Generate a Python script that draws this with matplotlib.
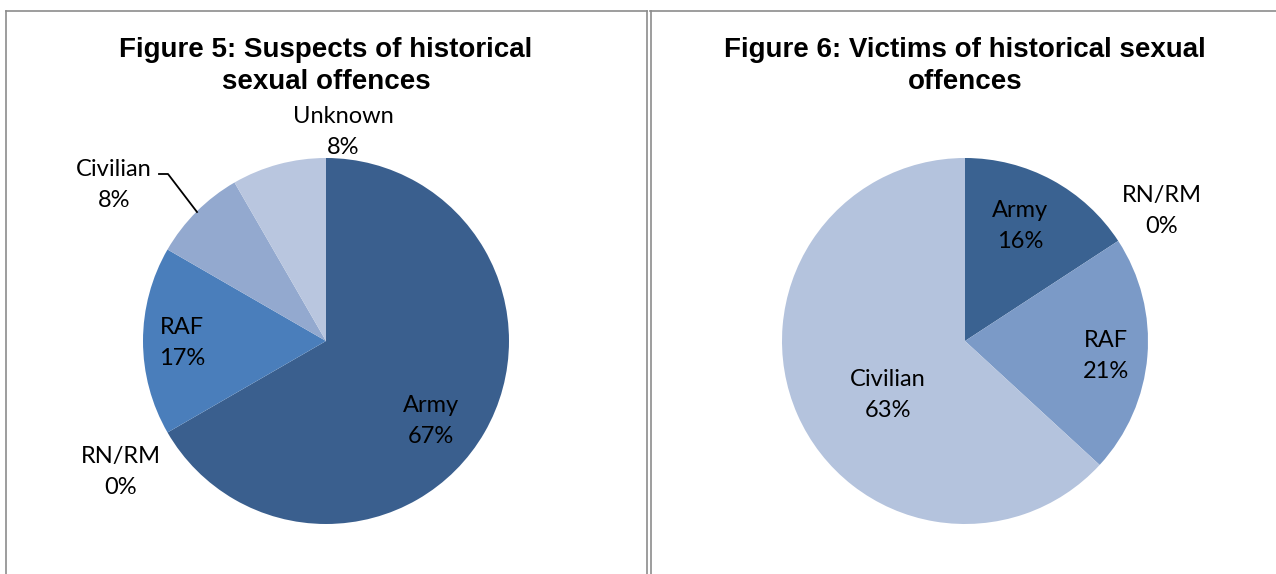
import matplotlib
matplotlib.use("Agg")
import matplotlib.pyplot as plt
from matplotlib.lines import Line2D

# Figure 5: suspects (counts out of 12)
sus_labels = ["Army", "RN/RM", "RAF", "Civilian", "Unknown"]
sus_values = [8, 0, 2, 1, 1]
sus_pct = ["67%", "0%", "17%", "8%", "8%"]
sus_colors = ["#3A5F8E", "#3A5F8E", "#4A7EBB", "#93A9CF", "#B9C6DF"]

# Figure 6: victims (counts out of 19)
vic_labels = ["Army", "RN/RM", "RAF", "Civilian"]
vic_values = [3, 0, 4, 12]
vic_pct = ["16%", "0%", "21%", "63%"]
vic_colors = ["#3A6291", "#3A6291", "#7B9AC7", "#B4C3DD"]

W, H = 1276, 574
fig = plt.figure(figsize=(W / 100, H / 100), dpi=100)

def px_axes(cx, cy, r):
    ax = fig.add_axes([(cx - r) / W, 1 - (cy + r) / H, 2 * r / W, 2 * r / H])
    return ax

def draw_pie(ax, values, colors):
    vals = [v if v > 0 else 1e-9 for v in values]
    ax.pie(vals, colors=colors, startangle=90, counterclock=False, radius=1,
           wedgeprops=dict(linewidth=0))
    ax.set_xlim(-1, 1)
    ax.set_ylim(-1, 1)
    ax.set_aspect("auto")
    ax.axis("off")

lab_font = dict(family="Lato", fontsize=17, color="#000000", ha="center",
                va="center", linespacing=1.62)

# left pie
cx, cy, r = 326, 341, 183
ax1 = px_axes(cx, cy, r)
draw_pie(ax1, sus_values, sus_colors)
pos1 = [(431, 421), (121, 472), (182, 343), (114, 185), (343, 132)]
for lab, pct, (x, y) in zip(sus_labels, sus_pct, pos1):
    ax1.text((x - cx) / r, (cy - y) / r, lab + "\n" + pct, clip_on=False, **lab_font)
lx = [(159 - cx) / r, (168 - cx) / r, (197 - cx) / r]
ly = [(cy - 174) / r, (cy - 174) / r, (cy - 212) / r]
ax1.plot(lx, ly, color="black", lw=1.3, clip_on=False)

# right pie
cx2, cy2 = 965, 341
ax2 = px_axes(cx2, cy2, r)
draw_pie(ax2, vic_values, vic_colors)
pos2 = [(1020, 226), (1162, 211), (1106, 356), (888, 395)]
for lab, pct, (x, y) in zip(vic_labels, vic_pct, pos2):
    ax2.text((x - cx2) / r, (cy2 - y) / r, lab + "\n" + pct, clip_on=False, **lab_font)

# titles
title_font = dict(family="Liberation Sans", fontsize=20, fontweight="bold",
                  ha="center", va="center", linespacing=1.3)
fig.text(326 / W, 1 - 66 / H, "Figure 5: Suspects of historical\nsexual offences", **title_font)
fig.text(965 / W, 1 - 66 / H, "Figure 6: Victims of historical sexual\noffences", **title_font)

# panel borders
bc = "#8C8C8C"
def seg(x0, y0, x1, y1):
    fig.add_artist(Line2D([x0 / W, x1 / W], [1 - y0 / H, 1 - y1 / H], color=bc, lw=1.2))

seg(6, 11, 647, 11)
seg(6, 11, 6, H)
seg(646.5, 11, 646.5, H)
seg(650.5, 11, 650.5, H)
seg(650, 11, W, 11)

fig.savefig("out.png", dpi=100, facecolor="white")
